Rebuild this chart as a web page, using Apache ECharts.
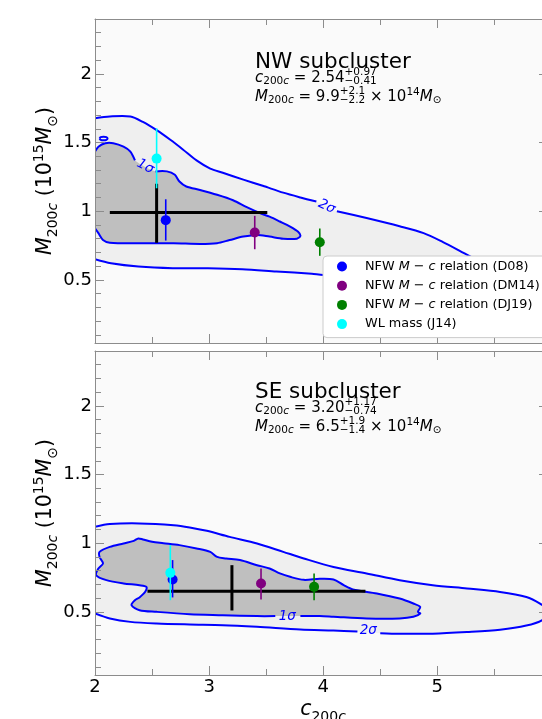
<!DOCTYPE html>
<html><head><meta charset="utf-8">
<script src="https://cdn.jsdelivr.net/npm/echarts@6/dist/echarts.min.js"></script>
<style>html,body{margin:0;padding:0;background:#fff}#c{width:542px;height:719px}</style>
</head><body><div id="c"></div>
<script>
const FONT = '"DejaVu Sans", sans-serif';

// ---- axes ----
const xMin = 2, xMax = 5.97, yMin = 0.04, yMax = 2.4;
const xMajor = [2, 3, 4, 5];
const xMinor = [2.5, 3.5, 4.5, 5.5];
const yMajor = [0.5, 1, 1.5, 2];
const yMinor = [0.1,0.2,0.3,0.4,0.6,0.7,0.8,0.9,1.1,1.2,1.3,1.4,1.6,1.7,1.8,1.9,2.1,2.2,2.3];

// ---- legend / reference measurements ----
const refNames = ['D08', 'DM14', 'DJ19', 'J14'];
const refLabels = [
  '{sp| }NFW {i|M} − {i|c} relation (D08)',
  '{sp| }NFW {i|M} − {i|c} relation (DM14)',
  '{sp| }NFW {i|M} − {i|c} relation (DJ19)',
  '{sp| }WL mass (J14)'
];
// NW subcluster points: c, M, M lower, M upper
const nwC  = [2.62, 3.40, 3.97, 2.54];
const nwM  = [0.935, 0.845, 0.774, 1.383];
const nwLo = [0.786, 0.723, 0.675, 1.167];
const nwHi = [1.087, 0.966, 0.874, 1.604];
// SE subcluster points
const seC  = [2.68, 3.455, 3.92, 2.66];
const seM  = [0.736, 0.707, 0.682, 0.784];
const seLo = [0.605, 0.590, 0.585, 0.585];
const seHi = [0.877, 0.816, 0.780, 0.986];

// best fit: [c, c low, c high, M, M low, M high]
const nwFit = [2.54, 2.13, 3.51, 0.99, 0.77, 1.20];
const seFit = [3.20, 2.46, 4.37, 0.65, 0.51, 0.84];

// ---- contours (null = gap for inline label) ----
const nw2s = [[2.0,1.677],[2.13,1.69],[2.31,1.69],[2.42,1.65],[2.54,1.59],[2.66,1.52],[2.77,1.45],[2.89,1.37],[3.01,1.31],[3.12,1.28],[3.30,1.23],[3.47,1.185],[3.65,1.135],[3.80,1.10],[3.94,1.07],null,[4.12,1.00],[4.38,0.95],[4.67,0.89],[4.88,0.84],[5.05,0.775],[5.20,0.71],[5.30,0.665],[5.42,0.62],[5.50,0.575],[5.48,0.54],[5.30,0.525],[5.0,0.525],[4.6,0.53],[4.2,0.533],[4.0,0.536],[3.90,0.544],[3.59,0.561],[3.29,0.578],[2.99,0.585],[2.68,0.585],[2.38,0.597],[2.14,0.621],[2.0,0.65]];
const nw1s = [[2.0,1.434],[2.03,1.47],[2.09,1.495],[2.16,1.495],[2.25,1.47],[2.31,1.434],[2.35,1.37],null,[2.53,1.29],[2.63,1.29],[2.70,1.265],[2.74,1.216],[2.80,1.18],[2.92,1.155],[3.07,1.12],[3.21,1.08],[3.33,1.03],[3.45,0.985],[3.53,0.96],[3.62,0.925],[3.71,0.888],[3.78,0.85],[3.80,0.82],[3.77,0.80],[3.65,0.80],[3.53,0.815],[3.42,0.827],[3.30,0.815],[3.18,0.79],[3.07,0.767],[2.92,0.762],[2.69,0.767],[2.39,0.767],[2.13,0.771],[2.07,0.791],[2.03,0.84],[2.0,0.876]];
const nwIsland = [[2.04,1.53],[2.05,1.54],[2.075,1.543],[2.10,1.54],[2.11,1.53],[2.10,1.52],[2.075,1.517],[2.05,1.52],[2.04,1.53]];
const se2s = [[2.0,1.119],[2.13,1.139],[2.39,1.144],[2.69,1.131],[2.83,1.115],[2.98,1.09],[3.18,1.046],[3.42,0.998],[3.65,0.937],[3.83,0.889],[4.09,0.827],[4.38,0.78],[4.67,0.73],[4.96,0.694],[5.26,0.67],[5.55,0.645],[5.78,0.608],[5.90,0.56],[5.99,0.50],[5.92,0.44],[5.78,0.40],[5.55,0.37],[5.26,0.353],[4.96,0.341],[4.67,0.341],[4.50,0.345],null,[4.30,0.357],[4.09,0.364],[3.80,0.372],[3.42,0.391],[3.12,0.403],[2.83,0.408],[2.54,0.415],[2.31,0.427],[2.13,0.452],[2.0,0.488]];
const se1s = [[2.04,0.937],[2.13,0.973],[2.25,0.998],[2.34,1.017],[2.38,1.035],[2.42,1.027],[2.50,1.01],[2.60,1.0],[2.74,0.986],[2.89,0.962],[3.01,0.937],[3.07,0.90],[3.15,0.889],[3.27,0.877],[3.42,0.84],[3.53,0.816],[3.62,0.78],[3.71,0.755],[3.83,0.733],[3.97,0.741],[4.09,0.736],[4.18,0.694],[4.26,0.663],[4.47,0.634],[4.67,0.597],[4.79,0.561],[4.85,0.536],[4.83,0.50],[4.85,0.488],[4.79,0.464],[4.67,0.452],[4.38,0.452],[4.09,0.464],[3.97,0.469],[3.80,0.469],null,[3.58,0.469],[3.42,0.469],[3.12,0.476],[2.83,0.483],[2.54,0.50],[2.39,0.512],[2.32,0.549],[2.35,0.585],[2.39,0.605],[2.44,0.646],[2.45,0.682],[2.39,0.694],[2.25,0.707],[2.10,0.731],[2.01,0.767],[2.03,0.816],[2.07,0.852],[2.04,0.90],[2.04,0.937]];
// contour labels
const nwLabText = ['1σ', '2σ'];
const nwLabPos = [[2.44, 1.325], [4.03, 1.033]];
const seLabText = ['1σ', '2σ'];
const seLabPos = [[3.685, 0.469], [4.395, 0.363]];

// ---- styles ----
const refColors = ['#0000ff', '#800080', '#008000', '#00ffff'];
const nwLabRot = [-0.47, -0.44];
const seLabRot = [0, 0];
const AX = '#8c8c8c';
const CBLUE = '#0000ff';
const FILL_OUT = '#fafafa', FILL_2 = '#efefef', FILL_1 = '#bfbfbf';
const SMOOTH = 0.3;

function xAx(g, pos, major, labels) {
  return {gridIndex: g, type: 'value', min: xMin, max: xMax, position: pos, z: 10,
    axisLine: {show: major, onZero: false, lineStyle: {color: AX, width: 1}},
    splitLine: {show: false},
    axisTick: {show: true, inside: true, length: major ? 9 : 6, customValues: major ? xMajor : xMinor, lineStyle: {color: AX, width: 1}},
    axisLabel: {show: !!labels, customValues: xMajor, margin: 3, fontSize: 18, fontFamily: FONT, color: '#000'}};
}
function yAx(g, pos, major, labels) {
  return {gridIndex: g, type: 'value', min: yMin, max: yMax, position: pos, z: 10,
    axisLine: {show: major, onZero: false, lineStyle: {color: AX, width: 1}},
    splitLine: {show: false},
    axisTick: {show: true, inside: true, length: major ? 9 : 6, customValues: major ? yMajor : yMinor, lineStyle: {color: AX, width: 1}},
    axisLabel: {show: !!labels, customValues: yMajor, margin: 3, fontSize: 18, fontFamily: FONT, color: '#000'}};
}

const gridBox = (top) => ({left: 95, top: top, width: 453, height: 324, outerBoundsMode: 'none', containLabel: false});
const grids = [
  Object.assign(gridBox(19), {show: true, backgroundColor: FILL_OUT, borderWidth: 0}),
  Object.assign(gridBox(19), {show: false}),
  Object.assign(gridBox(351), {show: true, backgroundColor: FILL_OUT, borderWidth: 0}),
  Object.assign(gridBox(351), {show: false})
];
const xAxes = [], yAxes = [];
for (let g = 0; g < 4; g++) {
  const major = (g % 2 === 0);
  xAxes.push(xAx(g, 'bottom', major, g === 2 && major));
  xAxes.push(xAx(g, 'top', major, false));
  yAxes.push(yAx(g, 'left', major, major));
  yAxes.push(yAx(g, 'right', major, false));
}

function contourSeries(ai, pts, fill, closed) {
  return {type: 'custom', xAxisIndex: ai, yAxisIndex: ai, clip: true, silent: true, z: 1,
    data: [pts[0]],
    renderItem: function (params, api) {
      const poly = pts.filter(p => p).map(p => api.coord(p));
      const segs = []; let cur = [];
      pts.forEach(p => { if (!p) { if (cur.length) segs.push(cur); cur = []; } else cur.push(api.coord(p)); });
      if (cur.length) segs.push(cur);
      if (closed && segs.length > 1) { const last = segs.pop(); segs[0] = last.concat(segs[0].slice(1)); }
      const children = [];
      if (fill) children.push({type: 'polygon', shape: {points: poly, smooth: SMOOTH}, style: {fill: fill, stroke: null, lineWidth: 0}});
      segs.forEach(s => children.push({type: 'polyline', shape: {points: s, smooth: SMOOTH}, style: {stroke: CBLUE, lineWidth: 2, fill: null}}));
      return {type: 'group', children: children};
    }};
}
function labelSeries(ai, texts, pos, rots) {
  return {type: 'custom', xAxisIndex: ai, yAxisIndex: ai, silent: true, z: 3,
    data: pos,
    renderItem: function (params, api) {
      const p = api.coord([api.value(0), api.value(1)]);
      return {type: 'text', x: p[0], y: p[1], rotation: rots[params.dataIndex],
        style: {text: texts[params.dataIndex], fill: CBLUE, fontSize: 13.5, fontStyle: 'italic', fontFamily: FONT,
          align: 'center', verticalAlign: 'middle', textAlign: 'center', textVerticalAlign: 'middle'}};
    }};
}
function fitSeries(ai, fit) {
  return {type: 'custom', xAxisIndex: ai, yAxisIndex: ai, silent: true, z: 4,
    data: [fit],
    renderItem: function (params, api) {
      const v = i => api.value(i);
      const a = api.coord([v(1), v(3)]), b = api.coord([v(2), v(3)]);
      const c = api.coord([v(0), v(4)]), d = api.coord([v(0), v(5)]);
      return {type: 'group', children: [
        {type: 'line', shape: {x1: a[0], y1: a[1], x2: b[0], y2: b[1]}, style: {stroke: '#000', lineWidth: 3}},
        {type: 'line', shape: {x1: c[0], y1: c[1], x2: d[0], y2: d[1]}, style: {stroke: '#000', lineWidth: 3}}
      ]};
    }};
}
function errSeries(ai, cx, lo, hi, i) {
  return {type: 'custom', name: 'err' + ai + '_' + i, xAxisIndex: ai, yAxisIndex: ai, silent: true, z: 5 + i * 2,
    data: [[cx[i], lo[i], hi[i]]],
    renderItem: function (params, api) {
      const a = api.coord([api.value(0), api.value(1)]), b = api.coord([api.value(0), api.value(2)]);
      return {type: 'line', shape: {x1: a[0], y1: a[1], x2: b[0], y2: b[1]}, style: {stroke: refColors[i], lineWidth: 1.6}};
    }};
}
function ptSeries(ai, cx, my, i) {
  return {type: 'scatter', name: refNames[i], xAxisIndex: ai, yAxisIndex: ai, z: 6 + i * 2,
    symbol: 'circle', symbolSize: 10, itemStyle: {color: refColors[i], opacity: 1},
    data: [[cx[i], my[i]]], silent: true};
}

const series = [
  contourSeries(0, nw2s, FILL_2, false),
  contourSeries(0, nwIsland, FILL_2, false),
  contourSeries(0, nw1s, FILL_1, false),
  labelSeries(0, nwLabText, nwLabPos, nwLabRot),
  fitSeries(0, nwFit),
  contourSeries(4, se2s, FILL_2, false),
  contourSeries(4, se1s, FILL_1, true),
  labelSeries(4, seLabText, seLabPos, seLabRot),
  fitSeries(4, seFit)
];
for (let i = 0; i < 4; i++) {
  series.push(errSeries(0, nwC, nwLo, nwHi, i));
  series.push(ptSeries(0, nwC, nwM, i));
  series.push(errSeries(4, seC, seLo, seHi, i));
  series.push(ptSeries(4, seC, seM, i));
}

// ---- math-like text annotations ----
const mctx = document.createElement('canvas').getContext('2d');
function textW(t, fs, it) { mctx.font = (it ? 'italic ' : '') + fs + 'px "DejaVu Sans"'; return mctx.measureText(t).width; }
function txt(t, x, y, fs, it) {
  return {type: 'text', x: x, y: y, z: 50, silent: true,
    style: {text: t, fill: '#000', fontSize: fs, fontStyle: it ? 'italic' : 'normal', fontFamily: FONT,
      align: 'left', verticalAlign: 'middle', textAlign: 'left', textVerticalAlign: 'middle'}};
}
function mathLine(x0, yc, parts, fs, ss) {
  const els = []; let x = x0;
  parts.forEach(p => {
    if (p.stack) {
      els.push(txt(p.stack[0], x, yc - 5.5, ss, false));
      els.push(txt(p.stack[1], x, yc + 3.5, ss, false));
      x += Math.max(textW(p.stack[0], ss, false), textW(p.stack[1], ss, false));
    } else {
      const size = p.k === 'n' ? fs : ss;
      const dy = p.k === 'sub' ? 3.5 : (p.k === 'sup' ? -5 : 0);
      els.push(txt(p.t, x, yc + dy, size, p.it));
      x += textW(p.t, size, p.it);
    }
  });
  return els;
}
function panelText(dy, title, cVal, cUp, cDn, mVal, mUp, mDn) {
  let els = [];
  els.push(txt(title, 255, 62 + dy, 21.5, false));
  els = els.concat(mathLine(255, 78 + dy, [
    {t: 'c', k: 'n', it: true}, {t: '200', k: 'sub'}, {t: 'c', k: 'sub', it: true},
    {t: ' = ' + cVal, k: 'n'}, {stack: [cUp, cDn]}], 15, 10.5));
  els = els.concat(mathLine(255, 97 + dy, [
    {t: 'M', k: 'n', it: true}, {t: '200', k: 'sub'}, {t: 'c', k: 'sub', it: true},
    {t: ' = ' + mVal, k: 'n'}, {stack: [mUp, mDn]}, {t: ' × 10', k: 'n'}, {t: '14', k: 'sup'},
    {t: 'M', k: 'n', it: true}, {t: '⊙', k: 'sub'}], 15, 10.5));
  return els;
}
const richAx = {
  n: {fontSize: 20.5, fontFamily: FONT, lineHeight: 28, verticalAlign: 'middle'},
  i: {fontSize: 20.5, fontFamily: FONT, fontStyle: 'italic', lineHeight: 28, verticalAlign: 'middle'},
  s: {fontSize: 14, fontFamily: FONT, lineHeight: 16, verticalAlign: 'bottom'},
  si: {fontSize: 14, fontFamily: FONT, fontStyle: 'italic', lineHeight: 16, verticalAlign: 'bottom'},
  p: {fontSize: 14, fontFamily: FONT, lineHeight: 16, verticalAlign: 'top'}
};
function yTitle(yc) {
  return {type: 'text', x: 46, y: yc, rotation: Math.PI / 2, z: 50, silent: true,
    style: {text: '{i|M}{s|200}{si|c}{n| (10}{p|15}{i|M}{s|⊙}{n|)}', rich: richAx, fill: '#000',
      align: 'center', verticalAlign: 'middle', textAlign: 'center', textVerticalAlign: 'middle'}};
}
let gfx = [];
gfx = gfx.concat(panelText(0, 'NW subcluster', '2.54', '+0.97', '−0.41', '9.9', '+2.1', '−2.2'));
gfx = gfx.concat(panelText(330, 'SE subcluster', '3.20', '+1.17', '−0.74', '6.5', '+1.9', '−1.4'));
gfx.push(yTitle(181));
gfx.push(yTitle(513));
gfx.push({type: 'text', x: 323, y: 710, z: 50, silent: true,
  style: {text: '{i|c}{s|200}{si|c}', rich: richAx, fill: '#000', align: 'center', verticalAlign: 'middle', textAlign: 'center', textVerticalAlign: 'middle'}});

const chart = echarts.init(document.getElementById('c'), null, {renderer: 'canvas'});
chart.setOption({
  animation: false,
  backgroundColor: '#fff',
  grid: grids,
  xAxis: xAxes,
  yAxis: yAxes,
  legend: {
    data: refNames, left: 323, top: 256, orient: 'vertical', z: 20,
    icon: 'circle', itemWidth: 10, itemHeight: 10, itemGap: 4.2,
    padding: [3, 10, 6, 14], backgroundColor: '#fff', borderColor: '#cccccc', borderWidth: 1, borderRadius: 4,
    selectedMode: false,
    formatter: name => refLabels[refNames.indexOf(name)],
    textStyle: {fontFamily: FONT, fontSize: 12.8, color: '#000', lineHeight: 15,
      rich: {
        sp: {width: 13, fontSize: 12.8, lineHeight: 15},
        i: {fontFamily: FONT, fontStyle: 'italic', fontSize: 12.8, lineHeight: 15, color: '#000'}
      }}
  },
  series: series,
  graphic: {elements: gfx}
});
</script></body></html>
